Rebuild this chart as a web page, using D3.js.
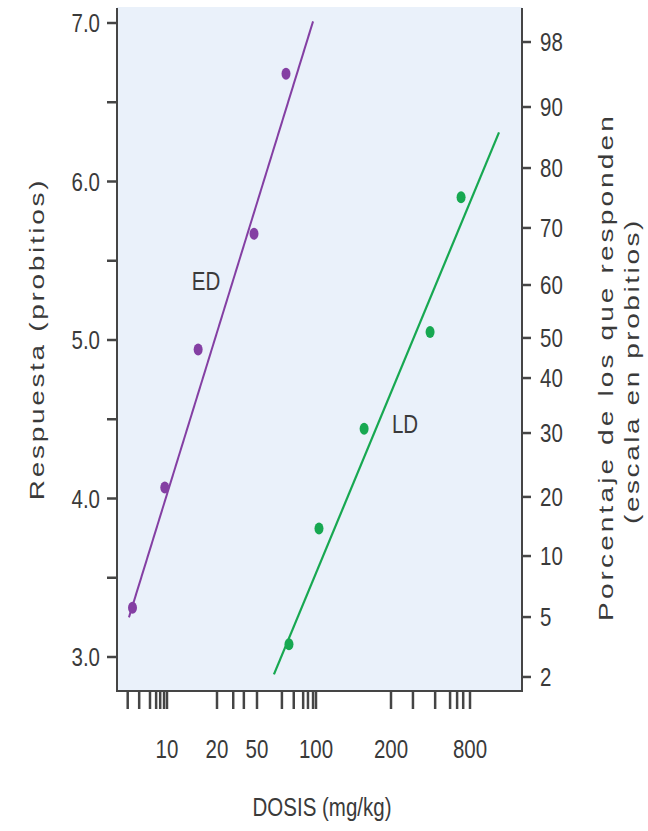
<!DOCTYPE html>
<html>
<head>
<meta charset="utf-8">
<script src="https://cdn.jsdelivr.net/npm/d3@7"></script>
<style>
  body { margin: 0; background: #fff; }
  text { font-family: "Liberation Sans", Arial, sans-serif; fill: #3a3a3a; }
</style>
</head>
<body>
<svg id="chart" width="648" height="831"></svg>
<script>
// dose axis is hand drawn in the source: labels are not evenly spaced on a log scale,
// so the x scale is piecewise linear on log10(dose) through the labelled doses
const doseLabels = [10, 20, 50, 100, 200, 800];
const doseMinor = [5.8, 6.8, 7.9, 8.6, 9.1, 9.6, 29, 37, 67, 77, 86, 91, 96.6, 294, 434, 564, 638, 710];

const probitTicks = [3, 4, 5, 6, 7];
const probitMinor = [3.5, 4.5, 5.5, 6.5];

// right axis: percent labels and where they sit, read in probit units of the left axis
const pctLabels = ['98', '90', '80', '70', '60', '50', '40', '30', '20', '10', '5', '2'];
const pctProbit = [6.88, 6.47, 6.085, 5.707, 5.347, 5.013, 4.76, 4.413, 4.01, 3.637, 3.252, 2.874];

// ED series (dose mg/kg, probit)
const edDose = [6.2, 9.7, 15.4, 46.7, 70.3];
const edProbit = [3.31, 4.07, 4.94, 5.67, 6.68];
const edFitDose = [5.9, 96.6];
const edFitProbit = [3.25, 7.01];

// LD series
const ldDose = [72.8, 102.8, 156, 397, 684];
const ldProbit = [3.08, 3.81, 4.44, 5.05, 5.90];
const ldFitDose = [61, 1331];
const ldFitProbit = [2.89, 6.31];

const purple = '#843fa3';
const green = '#17a851';
const axisCol = '#454545';

const svg = d3.select('#chart');
const plotL = 117, plotR = 522, plotT = 7, plotB = 691;

const x = d3.scaleLinear()
    .domain(doseLabels.map(d => Math.log10(d)))
    .range([167, 217, 257, 316, 391, 470]);
const xd = d => x(Math.log10(d));

const y = d3.scaleLinear()
    .domain([3, 7])
    .range([657, 23]);

// plot background
svg.append('rect')
    .attr('x', plotL).attr('y', plotT)
    .attr('width', plotR - plotL).attr('height', plotB - plotT)
    .attr('fill', '#eaf1fa');

// frame: left, bottom, right
svg.append('path')
    .attr('d', `M${plotL},${plotT + 1}V${plotB}H${plotR}V${plotT + 1}`)
    .attr('fill', 'none')
    .attr('stroke', axisCol)
    .attr('stroke-width', 2);

// left axis ticks
const leftG = svg.append('g');
leftG.selectAll('line')
    .data(probitTicks.concat(probitMinor))
    .enter().append('line')
    .attr('x1', plotL - 10).attr('x2', plotL)
    .attr('y1', d => y(d)).attr('y2', d => y(d))
    .attr('stroke', axisCol).attr('stroke-width', 2.5);
leftG.selectAll('g.lab')
    .data(probitTicks)
    .enter().append('g')
    .attr('class', 'lab')
    .attr('transform', d => `translate(100,${y(d) + 9}) scale(0.82,1)`)
    .append('text')
    .attr('text-anchor', 'end')
    .attr('font-size', 25)
    .text(d => d.toFixed(1));

// right axis ticks
const rightG = svg.append('g');
rightG.selectAll('line')
    .data(pctProbit)
    .enter().append('line')
    .attr('x1', plotR).attr('x2', plotR + 9)
    .attr('y1', d => y(d)).attr('y2', d => y(d))
    .attr('stroke', axisCol).attr('stroke-width', 2.5);
rightG.selectAll('g.lab')
    .data(pctLabels)
    .enter().append('g')
    .attr('class', 'lab')
    .attr('transform', (d, i) => `translate(540,${y(pctProbit[i]) + 9}) scale(0.82,1)`)
    .append('text')
    .attr('font-size', 25)
    .text(d => d);

// bottom axis ticks
const botG = svg.append('g');
botG.selectAll('line')
    .data(doseLabels.concat(doseMinor))
    .enter().append('line')
    .attr('x1', d => xd(d)).attr('x2', d => xd(d))
    .attr('y1', plotB).attr('y2', plotB + 18)
    .attr('stroke', axisCol).attr('stroke-width', 2.5);
botG.selectAll('g.lab')
    .data(doseLabels)
    .enter().append('g')
    .attr('class', 'lab')
    .attr('transform', d => `translate(${xd(d)},758) scale(0.82,1)`)
    .append('text')
    .attr('text-anchor', 'middle')
    .attr('font-size', 25)
    .text(d => d);

// axis titles
svg.append('g')
    .attr('transform', 'translate(322,816) scale(0.82,1)')
    .append('text')
    .attr('text-anchor', 'middle')
    .attr('font-size', 25)
    .text('DOSIS (mg/kg)');

svg.append('g')
    .attr('transform', 'translate(44,339) rotate(-90) scale(1.12,0.82)')
    .append('text')
    .attr('text-anchor', 'middle')
    .attr('font-size', 25)
    .attr('letter-spacing', 2.4)
    .text('Respuesta (probitios)');

svg.append('g')
    .attr('transform', 'translate(613,367) rotate(-90) scale(1.12,0.82)')
    .append('text')
    .attr('text-anchor', 'middle')
    .attr('font-size', 25)
    .attr('letter-spacing', 2.8)
    .text('Porcentaje de los que responden');

svg.append('g')
    .attr('transform', 'translate(639,371) rotate(-90) scale(1.12,0.82)')
    .append('text')
    .attr('text-anchor', 'middle')
    .attr('font-size', 25)
    .attr('letter-spacing', 2.3)
    .text('(escala en probitios)');

// fitted lines
const line = d3.line().x(d => xd(d[0])).y(d => y(d[1]));
svg.append('path')
    .datum(d3.zip(edFitDose, edFitProbit))
    .attr('d', line)
    .attr('fill', 'none').attr('stroke', purple).attr('stroke-width', 2);
svg.append('path')
    .datum(d3.zip(ldFitDose, ldFitProbit))
    .attr('d', line)
    .attr('fill', 'none').attr('stroke', green).attr('stroke-width', 2.2);

// points
svg.append('g').selectAll('ellipse')
    .data(d3.zip(edDose, edProbit))
    .enter().append('ellipse')
    .attr('cx', d => xd(d[0])).attr('cy', d => y(d[1]))
    .attr('rx', 4.5).attr('ry', 6)
    .attr('fill', purple);
svg.append('g').selectAll('ellipse')
    .data(d3.zip(ldDose, ldProbit))
    .enter().append('ellipse')
    .attr('cx', d => xd(d[0])).attr('cy', d => y(d[1]))
    .attr('rx', 4.5).attr('ry', 6)
    .attr('fill', green);

// series labels
svg.append('g')
    .attr('transform', 'translate(206,290) scale(0.82,1)')
    .append('text')
    .attr('text-anchor', 'middle')
    .attr('font-size', 25)
    .text('ED');
svg.append('g')
    .attr('transform', 'translate(405,433) scale(0.82,1)')
    .append('text')
    .attr('text-anchor', 'middle')
    .attr('font-size', 25)
    .text('LD');
</script>
</body>
</html>
